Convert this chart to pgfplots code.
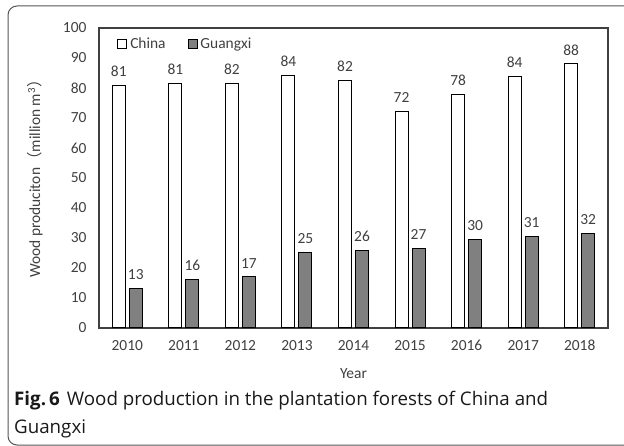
\documentclass[border=0pt]{standalone}
\usepackage{fontspec}
\setmainfont{Carlito}
\newfontfamily\capfont{Open Sans}
\newfontfamily\cjk{Noto Sans CJK SC}
\usepackage{pgfplots}
\pgfplotsset{compat=1.18}
\definecolor{gx}{HTML}{808080}
\definecolor{txt}{HTML}{404040}
\definecolor{framec}{HTML}{555555}
\begin{document}
\begin{tikzpicture}
\useasboundingbox (0,0) rectangle (624bp,446bp);
\draw[framec, line width=1bp, rounded corners=9bp] (8bp,1bp) rectangle (660bp,440bp);
\begin{axis}[
 at={(99bp,118bp)}, anchor=south west,
 scale only axis, width=509bp, height=300bp,
 ybar=4bp, bar width=13bp,
 ymin=0, ymax=100, ytick={0,10,...,100},
 xmin=-0.5, xmax=8.5, xtick=data,
 xticklabels={2010,2011,2012,2013,2014,2015,2016,2017,2018},
 major tick length=0,
 axis line style={txt, line width=1.2bp},
 font=\fontsize{15.5}{18}\selectfont,
 ticklabel style={text=txt},
 /pgf/number format/assume math mode=true,
 yticklabel style={xshift=-9bp},
 xticklabel style={yshift=-9bp, text height=10bp, text depth=0bp},
 ylabel={Wood produciton{\cjk （}million m\textsuperscript{3}{\cjk ）}},
 ylabel style={at={(axis description cs:-0.126,0.51)}, anchor=center, text=txt},
 xlabel={Year},
 xlabel style={at={(axis description cs:0.5,-0.153)}, anchor=center, text=txt},
 point meta=y,
 nodes near coords={\pgfmathprintnumber[fixed,precision=0]{\pgfplotspointmeta}},
 nodes near coords style={text=txt, yshift=5bp},
 legend style={at={(0.03,0.98)}, anchor=north west, draw=none, fill=none,
   legend columns=-1, font=\fontsize{15.5}{18}\selectfont, text=txt,
   /tikz/every even column/.append style={column sep=20bp},
   /tikz/every odd column/.append style={column sep=1bp}},
 legend image code/.code={\draw[#1,line width=0.8bp] (0bp,-4.5bp) rectangle (9bp,4.5bp);},
]
\addplot[draw=black, fill=white, line width=1bp] coordinates {
 (0,80.7) (1,81.4) (2,81.6) (3,84.1) (4,82.4) (5,72.1) (6,77.7) (7,83.7) (8,88.0)};
\addplot[draw=black, fill=gx, line width=1bp] coordinates {
 (0,13.1) (1,16.1) (2,17.0) (3,25.2) (4,25.7) (5,26.6) (6,29.6) (7,30.6) (8,31.6)};
\legend{China,Guangxi}
\end{axis}
\node[anchor=base west, font=\capfont\fontsize{18.8}{26}\selectfont, text=black!90, inner sep=0pt] at (14bp,40.5bp) {\textbf{Fig.\,6}\hspace{7bp}Wood production in the plantation forests of China and};
\node[anchor=base west, font=\capfont\fontsize{18.8}{26}\selectfont, text=black!90, inner sep=0pt] at (14bp,13bp) {Guangxi};
\end{tikzpicture}
\end{document}
